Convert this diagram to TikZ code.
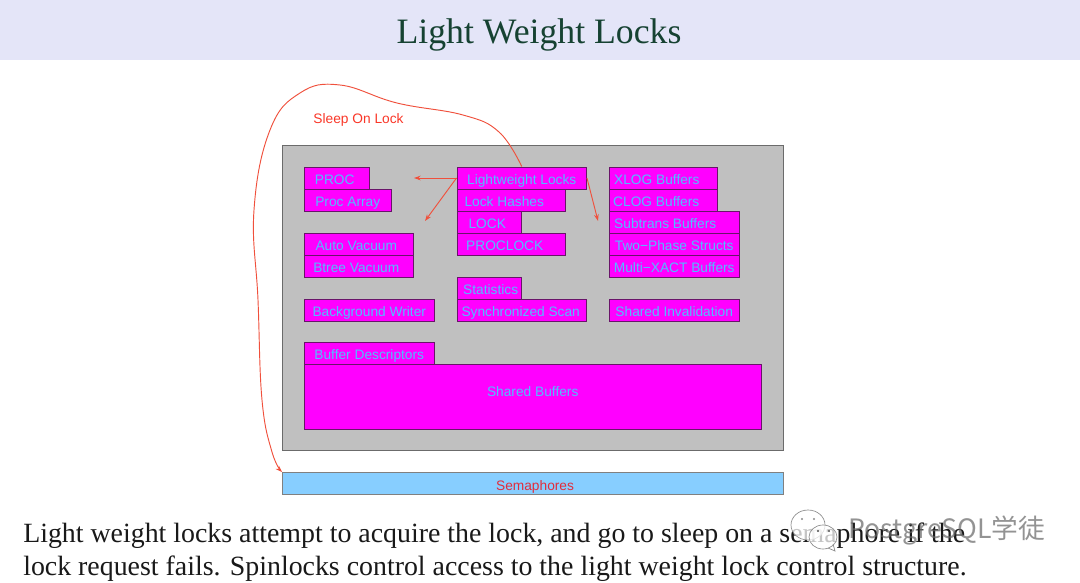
\documentclass[tikz,border=0pt]{standalone}
\usepackage{fontspec}
\setmainfont{Liberation Serif}
\newfontfamily\helv{Liberation Sans}
\newfontfamily\cjk{Noto Sans CJK SC}
\usetikzlibrary{arrows.meta,positioning}
\definecolor{band}{RGB}{228,229,248}
\definecolor{titlegreen}{RGB}{22,66,50}
\definecolor{shm}{RGB}{192,192,192}
\definecolor{mag}{RGB}{255,0,255}
\definecolor{cyanText}{RGB}{80,190,255}
\definecolor{blockedge}{RGB}{105,20,105}
\definecolor{semblue}{RGB}{135,206,255}
\definecolor{redline}{RGB}{240,80,60}
\definecolor{semred}{RGB}{225,45,60}
\definecolor{sleepred}{RGB}{250,55,40}
\tikzset{
  x=0.75pt,y=-0.75pt,
  memblock/.style={draw=blockedge,line width=0.75pt,fill=mag,text=cyanText,font=\helv\fontsize{10.3}{12}\selectfont,inner sep=0pt,anchor=north west,text height=9.6pt,text depth=0pt},
  sharedmem/.style={draw=black!58,line width=0.8pt,fill=shm,inner sep=0pt,anchor=north west},
  semabar/.style={draw=black!50,line width=0.8pt,fill=semblue,text=semred,font=\helv\fontsize{10.3}{12}\selectfont,inner sep=0pt,anchor=north west,text height=10.5pt,text depth=0pt},
  lockarrow/.style={draw=redline,line width=0.7pt,-{Stealth[length=5pt,width=3.5pt]}},
  bodytext/.style={anchor=base west,inner sep=0pt,font=\fontsize{20.9}{24}\selectfont,text=black!90},
  wmark/.style={draw=black!45,line width=0.5pt,fill=white,fill opacity=0.75},
}
\newcommand{\blk}[6]{\node[memblock,minimum width=#4*0.75pt-#2*0.75pt-0.4pt,minimum height=#5*0.75pt-#3*0.75pt] (#1) at (#2-0.5,#3-0.5) {#6};}
\begin{document}
\begin{tikzpicture}
\useasboundingbox (0,0) rectangle (1080,582);
\fill[white] (0,0) rectangle (1080,582);
\fill[band] (0,0) rectangle (1080,60);
\node[font=\fontsize{26.8}{30}\selectfont,text=titlegreen,inner sep=0pt] (title) at (539,35) {Light Weight Locks};
\node[sharedmem,minimum width=501*0.75pt,minimum height=305*0.75pt] (shmem) at (282,145) {};
\node[semabar,minimum width=501*0.75pt,minimum height=22*0.75pt] (sem) at (282,472) {\hspace*{3pt}Semaphores};
\blk{proc}{304}{167}{370}{189}{\hspace*{-3pt}PROC}
\blk{procarr}{304}{189}{392}{211}{Proc Array}
\blk{ll}{457}{167}{587}{189}{Lightweight Locks}
\blk{lh}{457}{189}{566}{211}{\hspace*{-10.5pt}Lock Hashes}
\blk{lock}{457}{211}{522}{233}{\hspace*{-3pt}LOCK}
\blk{proclock}{457}{233}{566}{255}{\hspace*{-9.7pt}PROCLOCK}
\blk{xlog}{609}{167}{718}{189}{\hspace*{-9.7pt}XLOG Buffers}
\blk{clog}{609}{189}{718}{211}{\hspace*{-10.5pt}CLOG Buffers}
\blk{subtrans}{609}{211}{740}{233}{\hspace*{-13.5pt}Subtrans Buffers}
\blk{twophase}{609}{233}{740}{255}{Two{\textminus}Phase Structs}
\blk{multi}{609}{255}{740}{277}{Multi{\textminus}XACT Buffers}
\blk{auto}{304}{233}{414}{255}{\hspace*{-3.7pt}Auto Vacuum}
\blk{btree}{304}{255}{414}{277}{\hspace*{-3.7pt}Btree Vacuum}
\blk{stats}{457}{277}{522}{299}{\hspace*{2.2pt}Statistics}
\blk{sync}{457}{299}{587}{321}{\hspace*{-1.5pt}Synchronized Scan}
\blk{bgw}{304}{299}{435}{321}{Background Writer}
\blk{inval}{609}{299}{740}{321}{Shared Invalidation}
\blk{bufdesc}{304}{342}{435}{364}{Buffer Descriptors}
\blk{shbuf}{304}{364}{762}{429}{\raisebox{4.8pt}{Shared Buffers}}
\coordinate (tproc) at (414,178);
\coordinate (tvac) at (425,221);
\coordinate (txlog) at (598,221);
\draw[lockarrow] (ll.west) -- (tproc);
\draw[lockarrow] (ll.west) -- (tvac);
\draw[lockarrow] (ll.east) -- (txlog);
\draw[lockarrow] plot[smooth,tension=0.7] coordinates {(ll.north) (499,132) (463,115) (397,103) (340,85) (300,93) (270,130) (254,210) (258,300) (262,400) (272,452) (sem.north west)};
\node[font=\helv\fontsize{10.3}{12}\selectfont,text=sleepred,inner sep=0pt] (sleep) at (358.5,119.5) {Sleep On Lock};
\node[bodytext] (l1) at (23,542) {Light weight locks attempt to acquire the lock, and go to sleep on a semaphore if the};
\node[bodytext] (l2) at (23,575) {lock request fails. Spinlocks control access to the light weight lock control structure.};
% watermark
\draw[wmark] (808,525) ellipse [x radius=17,y radius=15];
\fill[black!45] (802,519) circle (1.2) (814,519) circle (1.2);
\draw[wmark] (823,537) ellipse [x radius=14,y radius=12];
\draw[draw=black!45,line width=0.5pt] (828,548) -- (835,551) -- (833,544);
\fill[black!70] (818,531) circle (1.2) (829,531) circle (1.2);
\node[anchor=west,inner sep=0pt,font=\cjk\fontsize{20}{24}\selectfont,text=black!60,text opacity=0.7] (wm) at (848,531) {PostgreSQL学徒};
\end{tikzpicture}
\end{document}
